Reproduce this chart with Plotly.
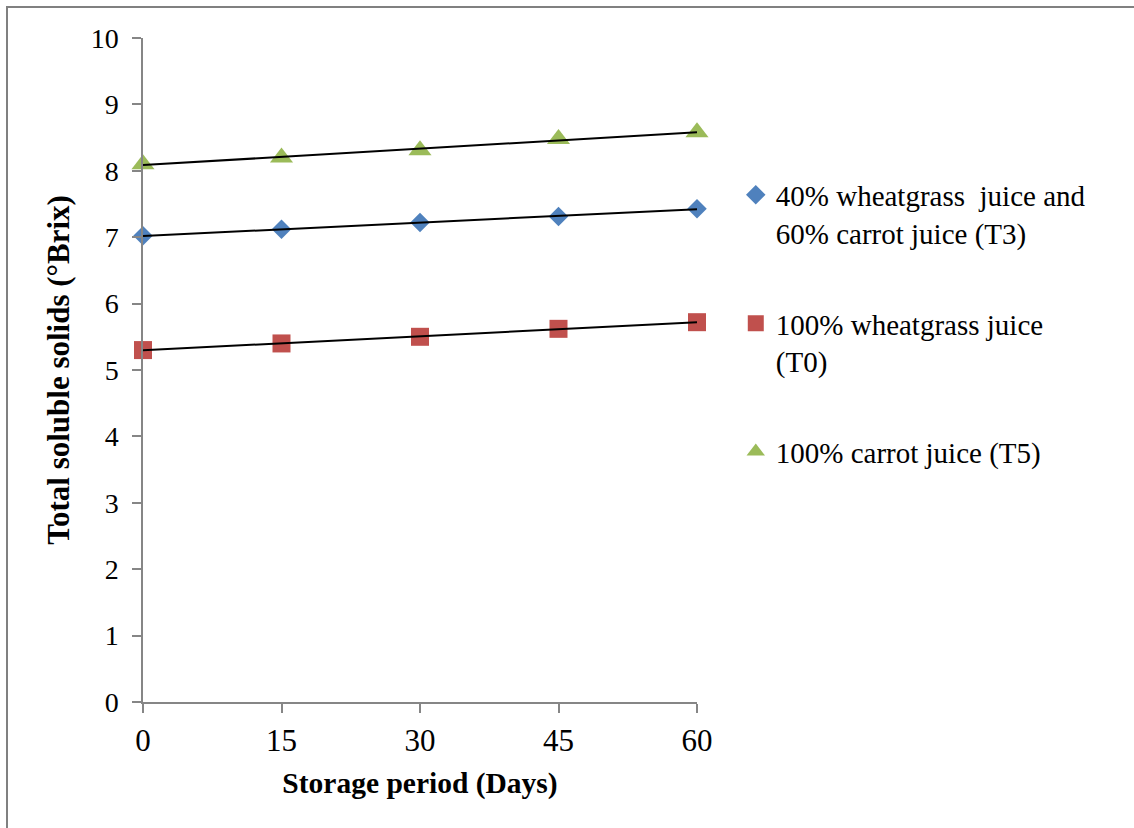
import numpy as np
import plotly.graph_objects as go

# Storage period (days)
days = [0, 15, 30, 45, 60]

# Total soluble solids (°Brix) per treatment
t3_values = [7.02, 7.12, 7.22, 7.31, 7.43]
t0_values = [5.30, 5.40, 5.50, 5.62, 5.72]
t5_values = [8.10, 8.20, 8.31, 8.48, 8.58]

series_names = [
    "40% wheatgrass  juice and<br>60% carrot juice (T3)",
    "100% wheatgrass juice<br>(T0)",
    "100% carrot juice (T5)",
]
y_ticks = list(range(0, 11))

serif = "Liberation Serif, Times New Roman, serif"
colors = ["#4F81BD", "#C0504D", "#9BBB59"]
symbols = ["diamond", "square", "triangle-up"]
sizes = [15, 18, 20]

fig = go.Figure()

series = [t3_values, t0_values, t5_values]
for i, (vals, name) in enumerate(zip(series, series_names)):
    fig.add_trace(go.Scatter(
        x=days, y=vals, mode="markers", name=name,
        legendgroup=f"g{i}", cliponaxis=False,
        marker=dict(symbol=symbols[i], size=sizes[i], color=colors[i],
                    line=dict(width=0)),
    ))

# Linear trendlines fitted to each series
for i, vals in enumerate(series):
    slope, intercept = np.polyfit(days, vals, 1)
    xs = [days[0], days[-1]]
    fig.add_trace(go.Scatter(
        x=xs, y=[intercept + slope * x for x in xs], mode="lines",
        line=dict(color="black", width=2), showlegend=False,
        hoverinfo="skip", cliponaxis=False,
    ))

axis_color = "#868686"
fig.update_xaxes(
    range=[0, 60], tickvals=days, ticktext=[str(d) for d in days],
    showgrid=False, zeroline=False, showline=True, linecolor=axis_color,
    linewidth=1.5, ticks="outside", ticklen=9, tickcolor=axis_color,
    tickwidth=1.5, tickfont=dict(family=serif, size=31, color="black"),
    ticklabelstandoff=1,
    title=dict(text="<b>Storage period (Days)</b>",
               font=dict(family=serif, size=29.5, color="black"), standoff=15),
)
fig.update_yaxes(
    range=[0, 10], tickvals=y_ticks, showgrid=False, zeroline=False,
    showline=True, linecolor=axis_color, linewidth=1.5, ticks="outside",
    ticklen=9, tickcolor=axis_color, tickwidth=1.5,
    tickfont=dict(family=serif, size=28, color="black"),
    ticklabelstandoff=8,
    title=dict(text="<b>Total soluble solids (°Brix)</b>",
               font=dict(family=serif, size=31, color="black"), standoff=12),
)

fig.update_layout(
    width=1134, height=828,
    margin=dict(l=143, r=437, t=38, b=126),
    plot_bgcolor="white", paper_bgcolor="white",
    legend=dict(
        x=1.07, y=0.802, xanchor="left", yanchor="top",
        font=dict(family=serif, size=29, color="black"),
        valign="top", tracegroupgap=50, itemwidth=30,
        bgcolor="rgba(0,0,0,0)",
    ),
    shapes=[dict(
        type="rect", xref="paper", yref="paper",
        x0=(7 - 143) / 554, x1=2.0, y0=-1.0, y1=(702 - 7) / 664,
        line=dict(color="#808080", width=2), fillcolor="rgba(0,0,0,0)",
        layer="below",
    )],
)

fig.write_html("out.html")
